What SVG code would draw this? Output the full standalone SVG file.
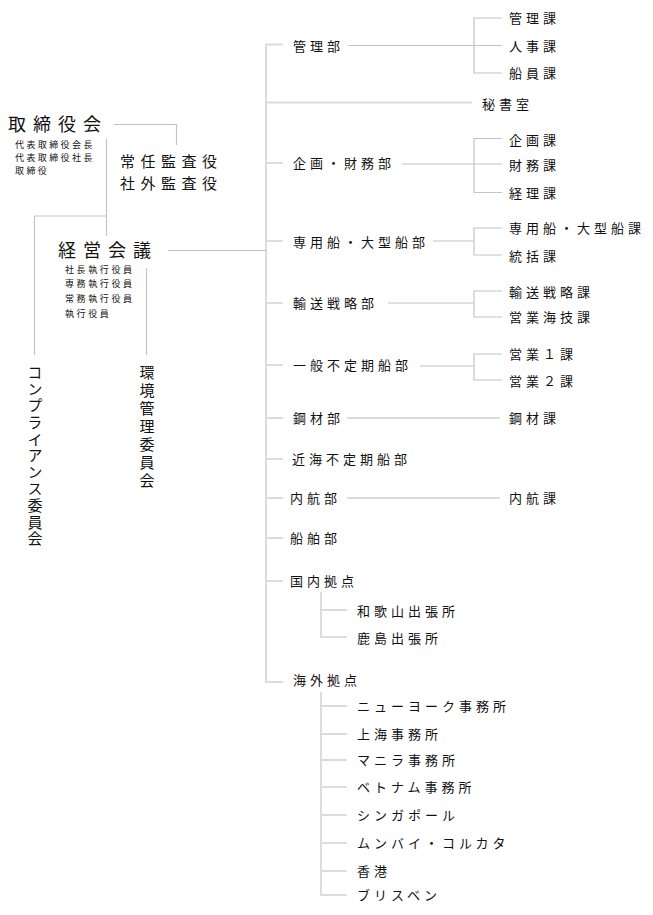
<svg xmlns="http://www.w3.org/2000/svg" width="653" height="915" viewBox="0 0 653 915">
<style>
text{font-family:"Noto Sans CJK JP","Noto Sans CJK SC",sans-serif;fill:#111;}
.d{font-size:13px;letter-spacing:4px;}
.s{font-size:9px;letter-spacing:2.4px;}
.b{font-size:18px;letter-spacing:7px;}
.m{font-size:15px;letter-spacing:5.5px;}
.v{font-size:15px;writing-mode:vertical-rl;}
.ln{fill:none;stroke:#c4c4c4;stroke-width:1.2;}
.tr{fill:none;stroke:#dcdcdc;stroke-width:2;}
</style>
<rect width="653" height="915" fill="#fff"/>
<g id="connectors">
<path class="tr" d="M283 44.5 H266 V682 H283"/>
<path class="tr" d="M266 163 H283 M266 241 H283 M266 303 H283 M266 365 H283 M266 418 H283 M266 459 H283 M266 498 H283 M266 538 H283 M266 581 H283"/>
<path class="tr" d="M266 102.5 H472"/>
<path class="ln" d="M348 45.5 H502 M502 18 H474 V73 H502"/>
<path class="ln" d="M402 164 H502 M502 138.5 H474 V192.5 H502"/>
<path class="ln" d="M433 241 H474 M502 228 H474 V255 H502"/>
<path class="ln" d="M388 303 H474 M502 291 H474 V317 H502"/>
<path class="ln" d="M420 366 H474 M502 354 H474 V380 H502"/>
<path class="tr" d="M347 418 H500 M347 498 H500"/>
<path class="tr" d="M321 592 V637 H347 M321 610 H347"/>
<path class="tr" d="M321 692 V895 H347 M321 706 H347 M321 734 H347 M321 760 H347 M321 787 H347 M321 815 H347 M321 843 H347 M321 871 H347"/>
<path class="ln" d="M114 124.5 H176.5 V145"/>
<path class="ln" d="M106.5 139 V236 M106.5 216 H34.5 V355"/>
<path class="ln" d="M168 250.5 H266"/>
<path class="ln" d="M146.5 268 V355"/>
</g>
<g id="board">
<text class="b" x="8" y="131.3">取締役会</text>
<text class="s" x="15" y="147.5">代表取締役会長</text>
<text class="s" x="15" y="160.5">代表取締役社長</text>
<text class="s" x="15" y="173.5">取締役</text>
</g>
<g id="auditors">
<text class="m" x="120" y="167.2">常任監査役</text>
<text class="m" x="120" y="188.7">社外監査役</text>
</g>
<g id="management">
<text class="b" x="58" y="256.8">経営会議</text>
<text class="s" x="65" y="272.5" style="letter-spacing:2.6px">社長執行役員</text>
<text class="s" x="65" y="287" style="letter-spacing:2.6px">専務執行役員</text>
<text class="s" x="65" y="302" style="letter-spacing:2.6px">常務執行役員</text>
<text class="s" x="65" y="316.5" style="letter-spacing:2.6px">執行役員</text>
</g>
<g id="compliance"><text class="v" x="35" y="365" style="letter-spacing:1.6px">コンプライアンス委員会</text></g>
<g id="environment"><text class="v" x="147" y="365" style="letter-spacing:3px">環境管理委員会</text></g>
<g id="kanri"><text class="d" x="293" y="51">管理部</text>
<text class="d" x="509" y="23">管理課</text><text class="d" x="509" y="51">人事課</text><text class="d" x="509" y="78">船員課</text></g>
<g id="hisho"><text class="d" x="482" y="109">秘書室</text></g>
<g id="kikaku"><text class="d" x="293" y="168">企画・財務部</text>
<text class="d" x="509" y="145">企画課</text><text class="d" x="509" y="170">財務課</text><text class="d" x="509" y="198">経理課</text></g>
<g id="senyo"><text class="d" x="293" y="247">専用船・大型船部</text>
<text class="d" x="509" y="233">専用船・大型船課</text><text class="d" x="509" y="261">統括課</text></g>
<g id="yuso"><text class="d" x="293" y="308">輸送戦略部</text>
<text class="d" x="509" y="297">輸送戦略課</text><text class="d" x="509" y="322">営業海技課</text></g>
<g id="ippan"><text class="d" x="293" y="370">一般不定期船部</text>
<text class="d" x="509" y="359">営業１課</text><text class="d" x="509" y="386">営業２課</text></g>
<g id="kozai"><text class="d" x="293" y="423">鋼材部</text><text class="d" x="509" y="423">鋼材課</text></g>
<g id="kinkai"><text class="d" x="292" y="464">近海不定期船部</text></g>
<g id="naiko"><text class="d" x="290" y="503">内航部</text><text class="d" x="509" y="503">内航課</text></g>
<g id="senpaku"><text class="d" x="290" y="543">船舶部</text></g>
<g id="kokunai"><text class="d" x="290" y="586">国内拠点</text>
<text class="d" x="357" y="616">和歌山出張所</text><text class="d" x="357" y="643">鹿島出張所</text></g>
<g id="kaigai"><text class="d" x="293" y="685">海外拠点</text>
<text class="d" x="357" y="711">ニューヨーク事務所</text>
<text class="d" x="357" y="739">上海事務所</text>
<text class="d" x="357" y="765">マニラ事務所</text>
<text class="d" x="357" y="792">ベトナム事務所</text>
<text class="d" x="357" y="820">シンガポール</text>
<text class="d" x="357" y="848">ムンバイ・コルカタ</text>
<text class="d" x="357" y="876">香港</text>
<text class="d" x="357" y="900">ブリスベン</text></g>
</svg>
